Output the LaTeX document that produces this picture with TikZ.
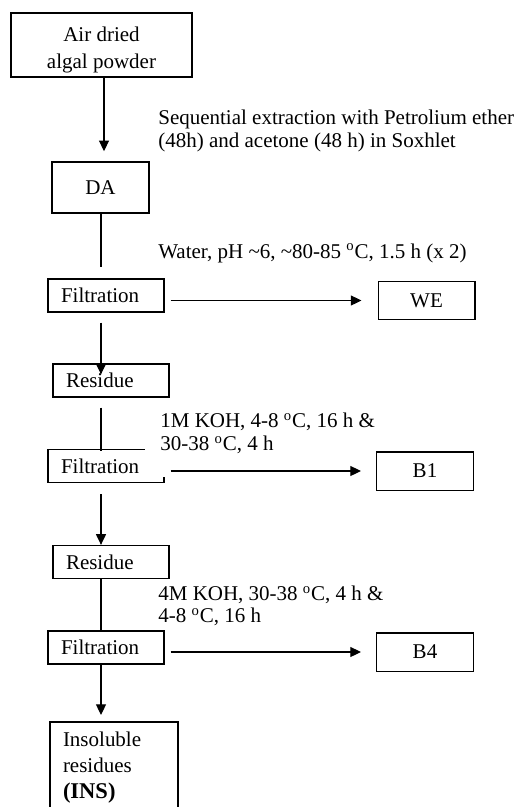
\documentclass[tikz,border=0pt]{standalone}
\usepackage{fontspec}
\setmainfont{Liberation Serif}
\usetikzlibrary{arrows.meta, positioning}

\newcommand{\degC}{\textsuperscript{o}C}
\newcommand{\lowered}[1]{\raisebox{-3pt}[\height][\depth]{#1}}

\begin{document}
\begin{tikzpicture}[
        x=0.6pt, y=-0.6pt,
        every node/.style={font=\fontsize{12.6}{16.2}\selectfont},
        box/.style={draw, line width=0.8pt, inner sep=0pt},
        thickbox/.style={box, line width=0.95pt},
        filtbox/.style={box, minimum width=69.6pt, minimum height=19.8pt, text width=54pt, align=left},
        resbox/.style={filtbox},
        outbox/.style={box, minimum width=58pt, minimum height=23pt},
        cond/.style={align=left, inner sep=0pt, anchor=west, font=\fontsize{12.6}{13.5}\selectfont},
        arrow/.style={-{Triangle[length=6.4pt, width=6pt]}, line width=0.65pt},
        link/.style={line width=0.65pt}
    ]

    \useasboundingbox (0,0) rectangle (521,807);

    \tikzset{
    cover/.style={fill=white, inner xsep=9pt, minimum height=52.2pt}
}

    \coordinate (S0) at (104,0);
    \coordinate (S) at (101,0);

    \node (air) [thickbox, minimum width=108.6pt, minimum height=38.4pt, align=center] at (101.5,45) {\lowered{Air dried}\\\lowered{algal powder}};
    \node (DA) [thickbox, minimum width=58.2pt, minimum height=30.6pt] at (100.5,187.5) {DA};
    \node (F1) [filtbox] at (106,295.5) {Filtration};
    \node (WE) [outbox] at (426.5,300.5) {WE};
    \node (F2) [filtbox] at (106,466) {Filtration};
    \node (C1) [cond, cover] at (145,433.5) {1M KOH, 4-8 \degC, 16 h \&\\30-38 \degC, 4 h};
    \node (R1) [resbox] at (111,380.5) {Residue};
    \node (B1) [outbox] at (425,471) {B1};
    \node (R2) [resbox] at (111,562) {Residue};
    \node (F3) [filtbox] at (106,647.5) {Filtration};
    \node (B4) [outbox] at (425,652) {B4};
    \node (INS) [thickbox, anchor=north, minimum width=76.8pt, minimum height=55.2pt, text width=61.2pt, align=left, font=\fontsize{12.6}{15.6}\selectfont] at (114,721) {Insoluble\\residues\\{\fontsize{13.5}{15.6}\selectfont\bfseries (INS)}};

    \node (SX) [cond] at (158,131) {Sequential extraction with Petrolium ether\\(48h) and acetone (48 h) in Soxhlet};
    \node (W) [cond] at (158,253) {Water, pH \textasciitilde6, \textasciitilde80-85 \degC, 1.5 h (x 2)};
    \node (C4) [cond] at (158,606) {4M KOH, 30-38 \degC, 4 h \&\\4-8 \degC, 16 h};

    \draw[arrow, shorten >=6pt] (air.south -| S0) -- (DA.north -| S0);
    \draw[link, shorten >=6.6pt] (DA.south -| S) -- (F1.north -| S);
    \draw[arrow, shorten <=3.6pt, shorten >=9.6pt] (F1.east |- WE.west) -- (WE.west);
    \draw[arrow, shorten <=6pt, shorten >=-6.6pt] (F1.south -| S) -- (R1.north -| S);
    \draw[link, shorten <=6pt, shorten >=-1.2pt] (R1.south -| S) -- (F2.north -| S);
    \draw[arrow, shorten <=3.6pt, shorten >=9pt] (F2.east |- B1.west) -- (B1.west);
    \draw[arrow, shorten <=6.6pt] (F2.south -| S) -- (R2.north -| S);
    \draw[link] (R2.south -| S) -- (F3.north -| S);
    \draw[arrow, shorten <=3.6pt, shorten >=9pt] (F3.east |- B4.west) -- (B4.west);
    \draw[arrow, shorten >=3.6pt] (F3.south -| S) -- (INS.north -| S);
    \end{tikzpicture}
\end{document}
